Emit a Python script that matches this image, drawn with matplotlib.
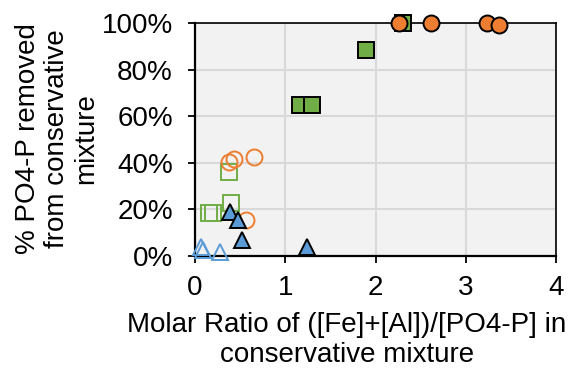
"""Percent PO4-P removed vs molar ratio of ([Fe]+[Al])/[PO4-P]."""
import numpy as np
import matplotlib
matplotlib.use('Agg')
import matplotlib.pyplot as plt
from matplotlib.ticker import PercentFormatter

# series: x = molar ratio, y = % removed
orange_fill_x = [2.26, 2.61, 3.24, 3.37]
orange_fill_y = [100, 100, 100, 99.2]
green_fill_x = [1.16, 1.30, 1.89, 2.31]
green_fill_y = [64.8, 64.8, 88.4, 100]
blue_fill_x = [0.39, 0.48, 0.52, 1.24]
blue_fill_y = [19.0, 15.5, 6.9, 4.0]
orange_open_x = [0.38, 0.43, 0.65, 0.56]
orange_open_y = [40.2, 41.6, 42.5, 15.5]
green_open_x = [0.16, 0.20, 0.38, 0.40]
green_open_y = [18.4, 18.4, 36.0, 22.9]
blue_open_x = [0.07, 0.09, 0.28]
blue_open_y = [4.0, 2.6, 1.8]

ORANGE, GREEN, BLUE = '#ED7D31', '#70AD47', '#5B9BD5'

plt.rcParams['font.family'] = ['Liberation Sans', 'DejaVu Sans']

fig = plt.figure(figsize=(5.73, 3.68), dpi=100)
ax = fig.add_axes([195/573, 1-256/368, 361/573, 233/368])
ax.set_facecolor('#f2f2f2')

ms, mew = 11.5, 1.4
kw = dict(ls='none', clip_on=False, zorder=3)
# open markers first, filled on top
ax.plot(green_open_x, green_open_y, 's', ms=ms, mfc='none', mec=GREEN, mew=mew, **kw)
ax.plot(orange_open_x, orange_open_y, 'o', ms=ms, mfc='none', mec=ORANGE, mew=mew, **kw)
ax.plot(blue_open_x, blue_open_y, '^', ms=ms, mfc='none', mec=BLUE, mew=mew, **kw)
ax.plot(green_fill_x, green_fill_y, 's', ms=ms, mfc=GREEN, mec='black', mew=mew, **kw)
ax.plot(orange_fill_x, orange_fill_y, 'o', ms=ms, mfc=ORANGE, mec='black', mew=mew, **kw)
ax.plot(blue_fill_x, blue_fill_y, '^', ms=ms, mfc=BLUE, mec='black', mew=mew, **kw)

ax.set_xlim(0, 4); ax.set_ylim(0, 100)
ax.set_xticks([0, 1, 2, 3, 4]); ax.set_yticks(np.arange(0, 101, 20))
ax.yaxis.set_major_formatter(PercentFormatter(100, decimals=0))
ax.grid(True, color='#d9d9d9', lw=1.5)
ax.set_axisbelow(True)
for s in ['left', 'bottom']:
    ax.spines[s].set_linewidth(1.6)
for s in ['top', 'right']:
    ax.spines[s].set_linewidth(1.2)
ax.tick_params(axis='both', labelsize=20, width=1.3, length=5, direction='out')
ax.tick_params(axis='y', pad=11)
ax.tick_params(axis='x', pad=9)

fig.text(57/573, 1-139/368, '% PO4-P removed\nfrom conservative\nmixture', rotation=90,
         ha='center', va='center', multialignment='center', fontsize=20, linespacing=1.15)
fig.text(347/573, 1-340/368, 'Molar Ratio of ([Fe]+[Al])/[PO4-P] in\nconservative mixture',
         ha='center', va='center', multialignment='center', fontsize=20, linespacing=1.15)

fig.savefig('out.png', dpi=100)
